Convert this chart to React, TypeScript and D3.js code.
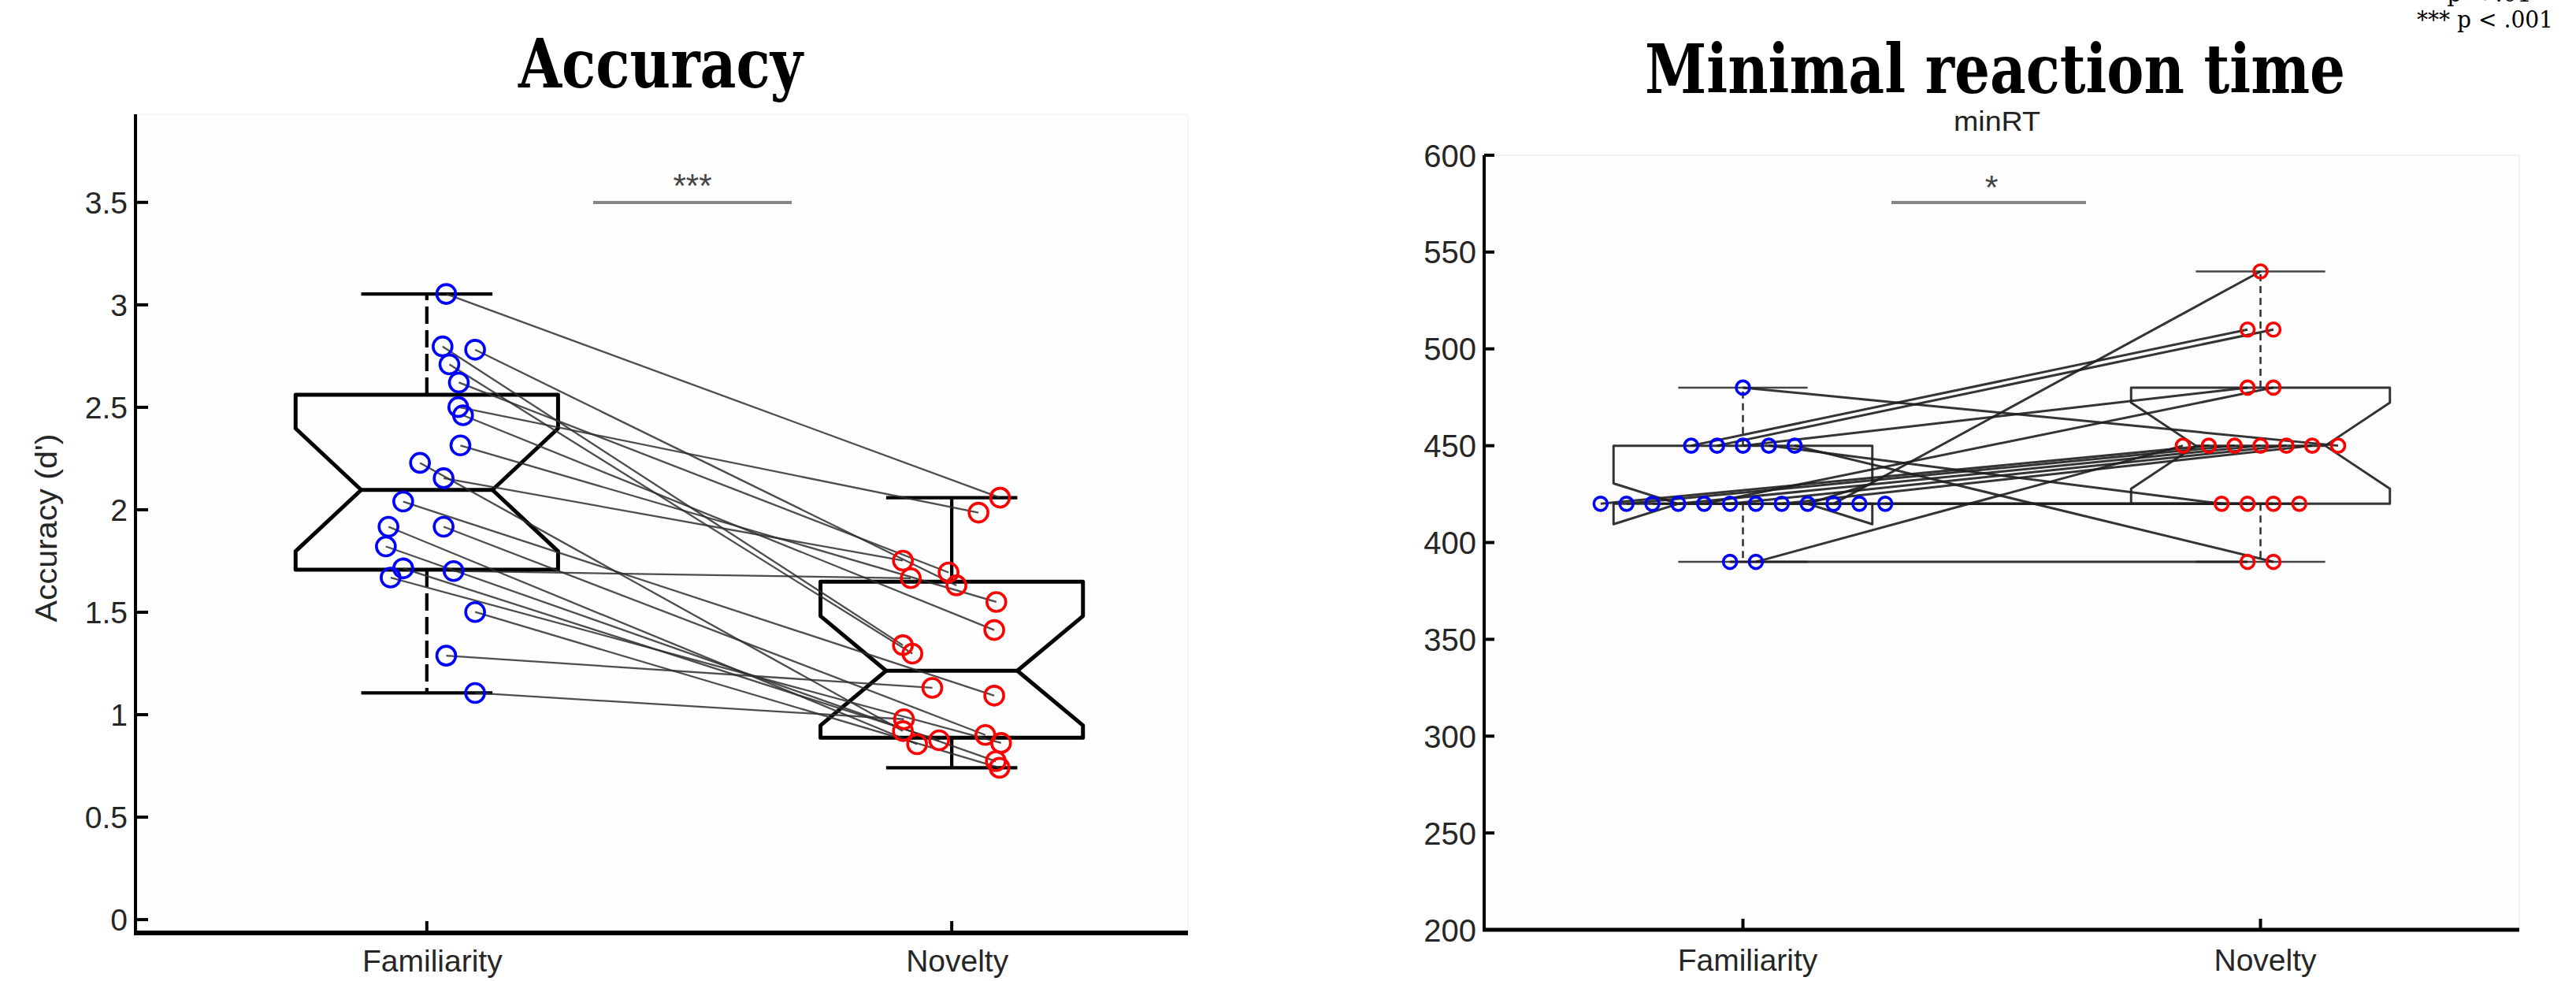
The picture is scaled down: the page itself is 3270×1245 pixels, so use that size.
import React from 'react';
import * as d3 from 'd3';

// ---------------- data ----------------
const categories = ['Familiarity', 'Novelty'];

const accTicks = [0, 0.5, 1, 1.5, 2, 2.5, 3, 3.5];
const rtTicks = [200, 250, 300, 350, 400, 450, 500, 550, 600];

// Accuracy (d') per subject, paired (subject i in both arrays)
const famAcc = [3.053, 2.797, 2.781, 2.709, 2.621, 2.501, 2.461, 2.314, 2.229, 2.154, 2.04, 1.917, 1.917, 1.821, 1.714, 1.669, 1.701, 1.501, 1.288, 1.106];
const famAccJitter = [0.037, 0.03, 0.092, 0.043, 0.061, 0.06, 0.069, 0.064, -0.013, 0.032, -0.045, -0.073, 0.032, -0.078, -0.045, -0.069, 0.051, 0.092, 0.037, 0.092];
const novAcc = [2.059, 1.339, 1.631, 1.298, 1.694, 1.986, 1.413, 1.55, 0.92, 1.752, 1.093, 0.856, 0.901, 0.773, 0.875, 0.862, 1.666, 0.741, 1.131, 0.978];
const novAccJitter = [0.092, -0.093, 0.009, -0.075, -0.006, 0.051, 0.081, 0.085, -0.093, -0.093, 0.081, -0.066, 0.064, 0.084, -0.024, 0.094, -0.078, 0.091, -0.037, -0.091];

// Minimal reaction time (ms) per subject, paired; null = missing
const famRT = [390, 390, 450, 450, 450, 450, 450, 420, 420, 420, 420, 420, 420, 420, 420, 420, 420, 420, 420, 480];
const novRT: (number | null)[] = [390, 450, 510, 510, 480, 420, 390, 450, 450, 420, 450, 480, 450, null, 450, 420, 540, null, 420, 450];

const accTitle = 'Accuracy';
const rtTitle = 'Minimal reaction time';
const rtSubtitle = 'minRT';
const accYLabel = "Accuracy (d')";
const accSig = '***';
const rtSig = '*';
const legendLines = ['** p < .01', '*** p < .001'];

// ---------------- helpers ----------------
function prctile(sorted: number[], p: number) {
  const n = sorted.length;
  const pos = p * n + 0.5;
  if (pos <= 1) return sorted[0];
  if (pos >= n) return sorted[n - 1];
  const lo = Math.floor(pos);
  const f = pos - lo;
  return sorted[lo - 1] + f * (sorted[lo] - sorted[lo - 1]);
}

function boxStats(values: (number | null)[]) {
  const v = values.filter((d): d is number => d != null).sort((a, b) => a - b);
  const q1 = prctile(v, 0.25);
  const med = prctile(v, 0.5);
  const q3 = prctile(v, 0.75);
  const iqr = q3 - q1;
  const hiF = q3 + 1.5 * iqr;
  const loF = q1 - 1.5 * iqr;
  const wHi = d3.max(v.filter((d) => d <= hiF)) as number;
  const wLo = d3.min(v.filter((d) => d >= loF)) as number;
  const notch = (1.57 * iqr) / Math.sqrt(v.length);
  return { q1, med, q3, wHi, wLo, nLo: med - notch, nHi: med + notch };
}

function spread(values: (number | null)[], step: number) {
  const valid = values.filter((d): d is number => d != null);
  const counts = d3.rollup(valid, (g) => g.length, (d) => d);
  const seen = new Map<number, number>();
  return values.map((v) => {
    if (v == null) return 0;
    const k = counts.get(v) as number;
    const r = seen.get(v) ?? 0;
    seen.set(v, r + 1);
    return (r - (k - 1) / 2) * step;
  });
}

type Scale = d3.ScaleLinear<number, number>;

function Box({ x, y, c, s, stroke, width, whiskerDash, capColor }: {
  x: Scale; y: Scale; c: number; s: ReturnType<typeof boxStats>;
  stroke: string; width: number; whiskerDash?: string; capColor: string;
}) {
  const w = 0.25, wi = 0.125, cw = 0.125;
  const pts: [number, number][] = [
    [c - w, s.q1], [c - w, s.nLo], [c - wi, s.med], [c - w, s.nHi], [c - w, s.q3],
    [c + w, s.q3], [c + w, s.nHi], [c + wi, s.med], [c + w, s.nLo], [c + w, s.q1],
  ];
  const line = d3.line<[number, number]>().x((d) => x(d[0])).y((d) => y(d[1]));
  return (
    <g>
      <line x1={x(c)} x2={x(c)} y1={y(s.q3)} y2={y(s.wHi)} stroke={stroke} strokeWidth={width * 0.85} strokeDasharray={whiskerDash} />
      <line x1={x(c)} x2={x(c)} y1={y(s.q1)} y2={y(s.wLo)} stroke={stroke} strokeWidth={width * 0.85} strokeDasharray={whiskerDash} />
      <line x1={x(c - cw)} x2={x(c + cw)} y1={y(s.wHi)} y2={y(s.wHi)} stroke={capColor} strokeWidth={width * 0.85} />
      <line x1={x(c - cw)} x2={x(c + cw)} y1={y(s.wLo)} y2={y(s.wLo)} stroke={capColor} strokeWidth={width * 0.85} />
      <path d={(line(pts) as string) + 'Z'} fill="none" stroke={stroke} strokeWidth={width} strokeLinejoin="round" />
      <line x1={x(c - wi)} x2={x(c + wi)} y1={y(s.med)} y2={y(s.med)} stroke={stroke} strokeWidth={width} />
    </g>
  );
}

const sans = "'Liberation Sans', Arial, Helvetica, sans-serif";
const serif = "'DejaVu Serif', 'Liberation Serif', serif";

// ---------------- app ----------------
export default function App() {
  // Left panel: accuracy
  const xL = d3.scaleLinear().domain([0.445, 2.45]).range([172, 1508]);
  const yL = d3.scaleLinear().domain([-0.065, 3.93]).range([1184, 145]);
  const famAccStats = boxStats(famAcc);
  const novAccStats = boxStats(novAcc);

  // Right panel: minimal RT
  const xR = d3.scaleLinear().domain([0.5, 2.5]).range([1884, 3198]);
  const yR = d3.scaleLinear().domain([200, 600]).range([1180, 197]);
  const famRTStats = boxStats(famRT);
  const novRTStats = boxStats(novRT);
  const famRTJ = spread(famRT, 0.05);
  const novRTJ = spread(novRT, 0.05);

  const tickColor = '#262626';

  return (
    <div style={{ position: 'absolute', left: 0, top: 0 }}>
      <svg width={3270} height={1245} viewBox="0 0 3270 1245" style={{ display: 'block', background: '#fff' }}>
        <rect x={0} y={0} width={3270} height={1245} fill="#fff" />

        {/* ============ LEFT PANEL ============ */}
        <rect x={xL.range()[0]} y={yL.range()[1]} width={xL.range()[1] - xL.range()[0]} height={yL.range()[0] - yL.range()[1]} fill="#fefefe" stroke="#f7f7f7" strokeWidth={2} />
        <text x={838.5} y={111} textAnchor="middle" fontFamily={serif} fontWeight="bold" fontSize={86} textLength={361} lengthAdjust="spacingAndGlyphs" fill="#000">{accTitle}</text>

        {/* boxes */}
        <Box x={xL} y={yL} c={1} s={famAccStats} stroke="#000" width={5} whiskerDash="22 8" capColor="#000" />
        <Box x={xL} y={yL} c={2} s={novAccStats} stroke="#000" width={5} capColor="#000" />

        {/* paired lines */}
        <g stroke="#2e2e2e" strokeOpacity={0.85} strokeWidth={2.3}>
          {famAcc.map((v, i) => (
            <line key={i} x1={xL(1 + famAccJitter[i])} y1={yL(v)} x2={xL(2 + novAccJitter[i])} y2={yL(novAcc[i])} />
          ))}
        </g>
        {/* points */}
        <g fill="none" strokeWidth={3.6}>
          {famAcc.map((v, i) => (
            <circle key={'f' + i} cx={xL(1 + famAccJitter[i])} cy={yL(v)} r={12} stroke="#0000ff" />
          ))}
          {novAcc.map((v, i) => (
            <circle key={'n' + i} cx={xL(2 + novAccJitter[i])} cy={yL(v)} r={12} stroke="#ff0000" />
          ))}
        </g>

        {/* significance */}
        <line x1={753} x2={1005} y1={257} y2={257} stroke="#858585" strokeWidth={4} />
        <text x={879} y={250} textAnchor="middle" fontFamily={sans} fontSize={42} fill="#444">{accSig}</text>

        {/* axes */}
        <line x1={xL.range()[0]} x2={xL.range()[0]} y1={yL.range()[1]} y2={yL.range()[0]} stroke="#000" strokeWidth={4} />
        <line x1={xL.range()[0] - 2} x2={xL.range()[1]} y1={yL.range()[0]} y2={yL.range()[0]} stroke="#000" strokeWidth={6} />
        {accTicks.map((t) => (
          <g key={t}>
            <line x1={xL.range()[0]} x2={xL.range()[0] + 16} y1={yL(t)} y2={yL(t)} stroke="#000" strokeWidth={4} />
            <text x={162} y={yL(t) + 14} textAnchor="end" fontFamily={sans} fontSize={39} fill={tickColor}>{String(t)}</text>
          </g>
        ))}
        {categories.map((c, i) => (
          <g key={c}>
            <line x1={xL(i + 1)} x2={xL(i + 1)} y1={yL.range()[0]} y2={yL.range()[0] - 15} stroke="#000" strokeWidth={4} />
            <text x={xL(i + 1) + 7} y={1233} textAnchor="middle" fontFamily={sans} fontSize={39} fill={tickColor}>{c}</text>
          </g>
        ))}
        <text transform="translate(72,670) rotate(-90)" textAnchor="middle" fontFamily={sans} fontSize={38} textLength={239} lengthAdjust="spacingAndGlyphs" fill={tickColor}>{accYLabel}</text>

        {/* ============ RIGHT PANEL ============ */}
        <rect x={xR.range()[0]} y={yR.range()[1]} width={xR.range()[1] - xR.range()[0]} height={yR.range()[0] - yR.range()[1]} fill="#fdfdfd" stroke="#f1f1f1" strokeWidth={2} />
        <text x={2532.5} y={118} textAnchor="middle" fontFamily={serif} fontWeight="bold" fontSize={86} textLength={889} lengthAdjust="spacingAndGlyphs" fill="#000">{rtTitle}</text>
        <text x={2535} y={166} textAnchor="middle" fontFamily={sans} fontSize={35} textLength={110} lengthAdjust="spacingAndGlyphs" fill="#222">{rtSubtitle}</text>

        <Box x={xR} y={yR} c={1} s={famRTStats} stroke="#333" width={3} whiskerDash="9 6" capColor="#444" />
        <Box x={xR} y={yR} c={2} s={novRTStats} stroke="#333" width={3} whiskerDash="9 6" capColor="#444" />

        <g stroke="#1e1e1e" strokeOpacity={0.9} strokeWidth={3}>
          {famRT.map((v, i) => {
            const n = novRT[i];
            if (n == null) return null;
            return <line key={i} x1={xR(1 + famRTJ[i])} y1={yR(v)} x2={xR(2 + novRTJ[i])} y2={yR(n)} />;
          })}
        </g>
        <g fill="none" strokeWidth={3.6}>
          {famRT.map((v, i) => (
            <circle key={'f' + i} cx={xR(1 + famRTJ[i])} cy={yR(v)} r={8.5} stroke="#0000ff" />
          ))}
          {novRT.map((v, i) =>
            v == null ? null : <circle key={'n' + i} cx={xR(2 + novRTJ[i])} cy={yR(v)} r={8.5} stroke="#ff0000" />
          )}
        </g>

        <line x1={2401} x2={2648} y1={257} y2={257} stroke="#858585" strokeWidth={4} />
        <text x={2528} y={252} textAnchor="middle" fontFamily={sans} fontSize={43} fill="#444">{rtSig}</text>

        <line x1={xR.range()[0]} x2={xR.range()[0]} y1={yR.range()[1]} y2={yR.range()[0]} stroke="#000" strokeWidth={4} />
        <line x1={xR.range()[0] - 2} x2={xR.range()[1]} y1={yR.range()[0]} y2={yR.range()[0]} stroke="#000" strokeWidth={5} />
        {rtTicks.map((t) => (
          <g key={t}>
            <line x1={xR.range()[0]} x2={xR.range()[0] + 13} y1={yR(t)} y2={yR(t)} stroke="#000" strokeWidth={4} />
            <text x={1874} y={yR(t) + 14.5} textAnchor="end" fontFamily={sans} fontSize={40} fill={tickColor}>{String(t)}</text>
          </g>
        ))}
        {categories.map((c, i) => (
          <g key={c}>
            <line x1={xR(i + 1)} x2={xR(i + 1)} y1={yR.range()[0]} y2={yR.range()[0] - 14} stroke="#000" strokeWidth={4} />
            <text x={xR(i + 1) + 6} y={1232} textAnchor="middle" fontFamily={sans} fontSize={39} fill={tickColor}>{c}</text>
          </g>
        ))}

        {/* significance legend (top line cut off by the frame, as in the source) */}
        <text x={3068} y={1.5} fontFamily={serif} fontSize={29} fill="#000">{legendLines[0]}</text>
        <text x={3068} y={35} fontFamily={serif} fontSize={29} textLength={173} lengthAdjust="spacingAndGlyphs" fill="#000">{legendLines[1]}</text>
      </svg>
    </div>
  );
}
